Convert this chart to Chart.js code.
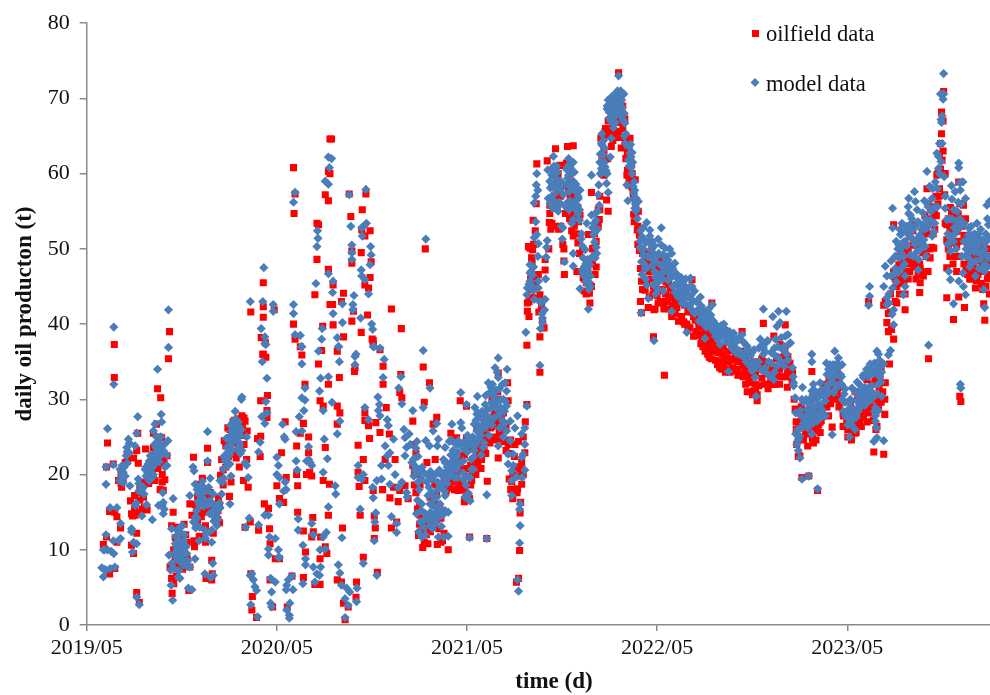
<!DOCTYPE html>
<html>
<head>
<meta charset="utf-8">
<title>daily oil production</title>
<script src="https://cdn.jsdelivr.net/npm/chart.js@4/dist/chart.umd.js"></script>
<style>
  html, body { margin: 0; padding: 0; background: #fff; overflow: hidden; }
  #wrap { position: relative; width: 990px; height: 695px; overflow: hidden; }
</style>
</head>
<body>
<!-- canvas is 5px wider than the page: the x scale keeps a margin on its right, the axis has to reach the edge -->
<div id="wrap"><canvas id="chart" width="995" height="695"></canvas></div>
<script>
// rows are [day since 2019/05, value, value, ...]
const oilfield2019 = [[32,10.7],[38,21,11.7],[40,24.2],[44,15.1,6.8],[51,21.4],[53,32.9,37.3],[54,15,7.5],[58,14.4,11],[61,19.2],[65,12.9],[66,18.8,20],[67,18.3],[70,19.4],[74,21.6],[78,21.8,22.8],[80,22.3],[84,16.5],[86,14.8,10.6],[88,14.5],[90,22.2,9.5],[92,15.4,17.2],[93,14.6],[96,23.2,12.2,4.3],[98,25.5],[99,21.5],[101,3],[102,16.6,18],[104,14.9,17.6],[106,15.4],[109,17],[111,15.6,19],[113,23.4],[116,15.3],[119,18.8,20],[123,19.4,21],[126,22.6,20.4],[128,23.6,25.5],[131,19.2],[132,21.4,23],[134,26.7],[136,31.4],[137,20.8,22],[140,23.6,25],[141,18],[142,30.2],[144,24.9],[145,20,19],[147,17.9],[148,22,21.6],[150,19.3],[154,22.5],[157,35.4],[159,39],[160,7.7],[163,13.2,6.2],[164,4.2],[166,15],[167,10,7.5,5.5],[170,11.6,9],[172,8,6.5],[173,7.7],[175,9.6,13],[178,12,8.6],[179,8.2],[181,9.2,10.4],[184,9,7.4],[187,13.4,8],[190,12,9],[193,8.8,11],[196,4.6],[198,16.1,7.7],[202,14.6],[205,22.3],[206,11.2],[207,10.4],[209,16,14],[211,15.2],[213,17,13.6],[214,18.7],[216,11.7],[217,17.2,11.8],[220,16.6,14.4],[222,19.5],[224,18,15],[227,15.2],[228,13.2,11],[229,6.2],[230,16.4,17.2],[232,23.5,21.6],[234,17.6],[235,16.8],[237,17.6,15.2],[240,8.6,6],[241,6.8],[243,12.2],[246,15.8],[249,14.6,16],[252,14,15.2],[253,16.8],[255,16,13.6],[257,19.9],[259,22],[262,20.6,18.6],[264,24.5],[267,23.8,21],[271,26.2],[272,24.8,22.4],[274,17.1],[275,23.8,26],[277,19],[279,25,24.4],[281,26,27],[282,22.7],[284,27.2,24.2],[287,25,22.2],[290,26.4,27.4],[293,21],[296,27,23.6],[298,27.8],[299,25.2,26.6],[301,19.2],[302,27.5,24],[304,27.1,13],[307,22],[308,25.8],[310,18.3],[314,13.7],[315,6.8,41.6],[317,2],[318,3.8],[326,1],[328,24.8],[330,12.6],[333,22.4],[334,25.1,29.8],[335,38.2],[338,36],[339,42.3,40.9,45.5,36],[341,16.1],[343,37.5],[344,35.6],[346,28.5,27.6],[347,30.5],[349,15.5],[351,12.8],[352,10.8,6],[357,2.4],[360,41.9],[362,8.8]];
const oilfield2020 = [[365,18.5],[370,8.8,16.8],[374,22.9],[378,16.3],[381,27],[383,19.6],[385,2.4],[394,6.5],[397,60.8,40],[398,54.7],[400,57.3,38],[403,23.8,20],[405,18.5,15],[410,25.5,37],[413,35.9],[416,12.5,26.8,6.3],[419,32],[420,9.7],[422,20],[426,25,22.9],[428,20.3],[432,19.8,11.7],[434,14.3],[435,12.4],[438,5.4,43.9],[442,48.6,53.4],[445,34.7,53.2],[448,5.4,8.8,29.8],[449,11.7],[451,36.5],[453,39.7],[454,19.2,29.1],[458,23.6,10.4,57.2],[461,9.5],[464,32,14.6,56.4,60.3,47.3],[466,18.7],[467,64.6,42.6,60],[470,64.6],[472,42.6],[473,45.2,39.9],[481,36.4,29.1,26.7,6],[485,32.9],[486,28.2],[489,43,5.7],[491,12.9],[493,44.1,38.3,2.9],[496,0.7],[502,2.4],[504,57.3],[507,54.3],[509,49.7,48.1,40.4],[512,41.7],[514,33.7],[515,34.2],[517,3.7],[518,5.7],[521,23.9,20.3],[523,18.4],[525,14.6],[527,49.5,38.9],[528,52.5],[529,55.2],[531,22,9],[534,51.7,45.2,28.2,27.2,19.2],[536,57.3],[539,41.2],[541,44.8,26.5],[543,24.8],[544,52.4,46.2],[546,48.3],[548,38],[550,37.4,37.8,17.9],[552,14.5,11.5],[554,12.9],[555,26.9],[558,7],[563,36.6,25.6],[568,18],[569,34.4,32],[573,22],[575,28.9],[581,25.4],[582,16.9],[585,42,12.9],[589,18.3],[592,22],[595,13.7],[598,16.4],[601,30.9,17.9],[603,33.3],[604,39.4],[605,30.2],[611,18.5],[617,16.8],[626,27.1,21.2],[627,24],[629,20.4,18.6],[632,22.8,17.6],[635,15.4,20,18],[637,11.9],[639,16,13.4],[640,18.6,14.6],[642,15,12.4],[645,10.3],[646,34.3],[648,29.6,14,11],[650,50],[652,13.6,12],[653,21.6],[655,13,10.8],[658,32.2],[659,17,13.9],[660,14.6,12.4],[664,13.7],[665,26.7],[668,16,18.6],[669,22],[672,27.6,17.4,14],[673,10.7],[676,12.8,15.8],[678,15.7],[680,18.5,14.2,11],[683,11.2],[686,19,12.2],[690,17.8,19.4],[694,10,18.2,20],[697,18.7],[698,21.4,19.6],[699,25.5],[702,19,20.6],[706,18,22],[710,24.9,22.4,20],[713,17.9],[714,21.4,18.8],[717,29.8],[718,22.4,19],[721,20.6,18],[725,16.4,22.6,18],[728,20.8,17],[729,24.9,29.1]];
const oilfield2021 = [[732,23.4,19.8],[735,11.7,16.8],[737,21.2,18.6],[739,19.2],[741,22,20.2],[744,21,23.4],[745,24.6],[747,22.2,20],[749,23.2,26.2],[751,21.6,24],[754,24.4,22.8],[755,24.1],[757,23,20.8],[758,22],[760,24,25.6],[763,23.2,27],[764,25.3],[766,22.8,25],[768,11.5],[769,19.1],[771,24.8,26.8],[774,24.2,27.6],[775,26.2],[778,26.4,30],[781,24.7],[783,28.2,25],[784,26.7],[786,24.6,30],[789,27.2,31],[790,33.5,22.2],[792,25.6,28.6],[796,27.4],[797,24.8,26.6],[800,28.2],[801,26,24.4],[805,26.4,23.2],[808,32.2],[809,29.8,24],[811,19.4,22.8],[814,24.6,18],[816,19],[818,20,16.8],[821,22.4,21],[822,24],[825,5.7],[826,21,17.6],[827,18.1],[829,6.2,24.4,19.8],[831,9.9],[832,20.7,14.9],[833,16.3],[835,18.7,21.6],[838,25,20],[841,22.9],[842,27],[845,29.3,37.2],[846,41.7,42.8],[848,50.3],[849,43,41],[851,50.1],[852,44.6,46],[854,48.8],[855,48.2,43.6],[856,49.9],[857,53.8],[858,50.6,46],[860,45.4],[861,52.4],[863,56],[864,61.3],[866,43.4],[867,46.6],[868,41.6],[870,33.6,43.9,38.3],[873,42.4],[875,40.4],[878,39.5],[880,47.2,48.6],[884,61.7],[887,50],[888,53.5],[889,54.7,55.8],[891,52.6,56],[893,58.5,53.4],[895,58.2,56],[896,55.4,60],[898,53,57],[900,63.3],[903,55.4,59.2],[905,60,57.5],[906,52.6,58],[909,61.1],[910,57,53],[914,50.6],[916,48.4,50],[917,46.6],[919,54.7],[921,58.4,61.4],[923,63.6],[925,56,58],[927,54,60],[928,57,59],[931,52.4],[933,54.6,57],[934,63.7,51.7],[936,53,56.4],[938,55.5],[940,52,54.6],[941,47],[943,50.8,55.4],[944,53.6],[946,49.4],[947,54.5],[952,47,50],[953,46.2],[955,44.4,46],[958,47.5],[959,44,45.5],[962,44.2,47.4],[963,51.9],[965,44.1],[966,45.2,42.8],[969,57.5,45],[971,50,48],[973,50.1],[975,49,52],[976,46.6],[978,51,47.6],[979,52.8],[982,55.2,53],[984,53.9],[985,57,55.2],[987,64.7],[989,62.4,60],[991,62.4],[993,59.8,63],[995,65.6],[996,62,66],[998,56.5],[1000,65,62],[1001,55,67],[1003,65.4,68.4],[1005,67.2],[1007,66,63.6],[1009,65.8],[1010,64.4,67.4],[1013,68,65],[1014,66.9],[1016,64.8,67],[1019,67.5,69.4,65.4],[1021,73.4,65.6],[1023,66.8,69],[1026,64.8,68.2,63.4],[1029,66,69],[1033,67.3,63.8],[1035,64.4,62],[1037,59.8],[1038,60.4,62.8],[1040,58.5],[1041,63,59],[1043,64.7],[1044,59.4,61.8],[1046,61.4,60],[1047,58.2,60],[1049,57.4],[1050,54.6,57],[1051,53.6],[1053,59.2],[1054,54.4,56],[1057,52.5],[1058,50.6,53],[1059,55],[1061,49.8,51.8],[1063,47.4,43],[1065,51.4,45.7,41.5],[1067,49.4,44.6],[1070,49.5,47.5],[1072,48.4,44.5],[1075,47.6,45.4],[1078,49.2,42.2],[1080,47,43.6],[1082,47.8],[1083,48.6,46],[1085,50.3],[1087,47.4,44],[1088,45,38.3],[1089,41.9],[1091,44.8,42],[1093,48],[1095,46.6,43.8],[1097,42.8,47.5],[1099,44.4,48.4]];
const oilfield2022 = [[1101,46,43],[1103,48.4,44.6],[1105,44.5],[1107,42.8],[1108,46.4,42],[1109,33.2],[1111,44],[1112,45.6,43],[1115,47,43],[1117,45.3,43.5],[1120,44.8,42],[1123,41],[1125,42.5,44],[1128,43.6],[1130,43.2,41.4],[1133,42.2],[1136,42.8,40.4],[1139,43.5],[1142,44,41],[1146,40.3],[1148,42.5,40],[1152,40],[1154,41.6,39.6],[1157,42.3],[1158,42.4,39.5],[1162,45.9,41.6],[1165,41,38.4],[1168,40.5],[1170,41.2,38.6],[1171,39],[1174,38.5,40.4],[1175,39.6],[1178,38.6],[1179,39.8,37.4],[1181,38.2],[1183,38.4,37],[1184,37.3,37.8],[1187,39.2,36.4],[1190,37.4,39],[1192,38,36],[1195,38.4,35.6],[1197,36.9],[1199,37.6,35.4],[1200,42.8,36.6],[1203,36.4,38.2],[1204,37.2],[1207,35.2,37],[1208,36.4],[1211,36.6,34.6],[1213,36.2,35],[1215,36.6,34.2],[1216,34.8],[1219,35,34],[1220,36],[1222,37,34.4],[1223,36,35],[1226,35,33.6],[1228,35.5],[1230,36.4,34],[1232,35,34],[1235,35.4,33.6],[1238,36.5],[1240,36.6,34.2],[1243,35.2],[1245,33.8,35.8],[1249,34],[1250,35,33.2],[1253,36],[1255,36.4,33.4],[1258,39,35],[1260,34.4,33],[1264,35,34],[1265,35.8,32],[1268,33.4,31],[1270,34.8,33],[1272,32.2,34.6],[1275,33.6],[1278,33,30.6],[1280,31.1,35],[1283,32],[1284,31,33.6],[1287,29.8,30.6],[1290,34,31.8],[1293,35],[1296,32.8,35.4],[1299,40.1,35],[1302,34.6,32],[1305,33.5],[1308,33.4,31.4],[1312,32],[1313,33.6,32.6],[1316,34.3],[1318,34.2,32],[1319,38.4],[1322,32],[1324,35.4,33],[1326,33.4],[1330,34,32],[1331,37.3],[1335,33,35.6],[1338,34.6],[1340,36.4,33],[1341,39.9],[1345,33.8,31.6],[1346,35.7],[1350,33,34.8],[1354,32.2],[1355,33.5],[1358,30],[1360,28.7],[1362,27,26],[1363,24],[1366,22.4,24.8],[1367,26.7],[1369,22.5],[1372,29,27.4],[1373,19.6],[1376,24.6,27.4],[1380,26.4,28.4,25.4],[1384,26,23.8],[1386,19.8],[1388,27,29],[1389,29.8],[1392,33.7,26],[1393,26.8,24.8],[1395,24.2],[1397,26,28.4],[1398,28.8],[1400,27.2,24.6],[1402,25.8],[1403,17.9],[1405,28.6,26.6],[1408,25.6,27],[1410,27.2],[1412,30.6,28],[1416,29],[1418,30.8,32],[1421,31.4,29],[1424,27.8,31],[1425,30.2,32.6],[1428,29.4,31.4],[1431,26.3],[1433,31.4,33.4],[1434,30.7],[1437,33,30],[1440,31.6],[1441,33.6,31],[1444,32.2,29],[1446,29.5],[1449,30.2,31.6],[1452,28,26.4],[1453,27.8]];
const oilfield2023 = [[1459,26.9],[1461,26,25],[1465,27.8,26],[1466,29.6,27.5],[1468,25,24.6],[1471,27.8],[1472,26.4,28.6],[1475,31,25.5],[1477,28,25.6],[1480,30,26.6],[1482,27],[1484,29,27],[1487,31,26.4],[1488,28.5],[1491,29.2,27.6],[1494,28.8,30.6],[1495,30],[1498,32.6,27],[1501,28.2,43],[1503,29,31.4],[1506,30.8],[1507,28.6,32],[1510,30,27.2],[1511,23],[1513,32.4,29],[1515,26],[1517,26.4,33.2],[1520,29.2],[1521,29.8,31.6],[1523,30.4,33],[1525,34,29.6],[1528,31],[1530,22.7,42.5],[1532,30,28],[1533,32.2,43],[1536,40.2],[1539,41.4,39],[1541,34.7],[1543,44,41.6],[1545,39.3],[1549,53.2,47,38],[1552,43,46],[1555,42.8,45],[1556,49,47],[1559,47.9],[1560,46.4,44],[1563,49,45.4],[1565,50],[1566,50.6,46],[1569,48.4,45.8],[1571,41.9,44],[1573,47,50.4],[1576,48],[1577,49.6,46],[1580,51.6,47],[1581,48.8],[1583,53,48.6],[1586,52.4,48],[1587,53.2,50.5],[1589,50.6,47.6],[1592,51,48.6,46],[1596,50,46.6],[1599,44.2,48],[1600,45.5,47.4],[1602,51,47],[1605,49.5],[1606,52,46.4],[1609,50,54.4],[1612,49,53],[1613,58,52],[1615,56,47],[1616,35.4],[1618,52,50],[1619,54,48.8],[1622,53.6,50.2],[1625,55.6,52],[1626,50.1],[1628,52.6,54.6],[1631,54.4,57],[1632,59.8],[1634,60,56],[1636,57],[1637,58,62.6],[1639,64,60.6],[1641,68.2,65.3],[1642,61.8],[1644,63,67],[1645,70.9],[1647,57.2],[1648,60,53.4],[1651,53.2,51.2,47.5,43.5],[1654,54,50],[1657,52.4,49],[1658,55.5],[1660,52,54.6],[1663,48,50.8],[1664,53,40.6],[1667,53.6,49],[1670,50.6,47],[1671,52.3],[1673,54.6,51],[1674,58.9,43.6],[1676,30.4,56,49],[1678,29.7],[1680,53,56],[1683,55.8],[1684,51.8,48],[1685,42.2],[1687,54],[1688,51,47.6],[1691,50,46.6],[1693,47.2],[1695,48.6,46],[1698,46,50],[1700,46.5,49],[1702,47.6,49],[1705,51.4,47],[1706,44.8],[1708,49,45.8],[1711,46.6,48.6],[1712,47],[1714,50,47],[1717,45.4,47.8],[1719,48.8],[1720,44.6,50],[1722,42.7],[1723,47.4,45],[1724,40.5],[1726,48,45],[1729,49,46],[1731,46.6,50],[1733,48,44]];

const model2019 = [[29,7.6],[32,6.4,10],[34,10,7.4],[37,7.3,12,18.7,21],[40,10,26.1],[45,7.5,15.6],[47,9.8],[51,11.2,21.3],[52,9.5,32,39.6],[54,7.7],[58,15.6],[61,11.2],[63,19.2],[64,20.7],[65,13.5,11.5],[67,20],[68,19.5,21.2],[70,20.3,18.9],[72,21],[74,19.8],[76,22.5],[77,23.6],[78,23,21.5],[80,24.7],[82,24.2,22.9],[83,18.5],[86,12.8,12.4],[88,9.7],[90,11],[93,23.8,15.9],[95,16.2],[96,10.8,25.5,3.7],[98,27.7],[99,19.4],[100,17.8,18.8],[101,2.7],[104,18.5],[106,18,14.5],[109,18.3],[110,17.4],[112,20.7],[114,19.8,21],[115,16],[117,20.2,19.6],[118,21.4],[120,21.8,20.6,19.2],[122,20,22.5],[125,22],[126,14],[127,19.7,21],[128,20,25.8],[130,22.8,24],[131,26.7],[133,23.6,22.2],[134,21.6,25],[136,34],[137,24.3,23],[138,15.9],[139,22.4,21.7],[141,23.6],[142,22.5,25],[143,28],[144,27],[145,23.2,16],[146,17.6],[147,23.2,16.3,14.8],[149,15.4,24],[150,21],[154,22.6,21.2],[156,24.5],[157,36.9,41.9],[158,9.3],[161,7.3],[162,5.3],[163,12.8,8.2],[165,3.3],[166,16.8],[168,9.5,7.5],[170,10.8],[171,9.2,11.8],[173,10],[174,8.8,12.6,10.4],[176,8.6,6.4],[177,9.6,11.4,7.2],[179,6.2,12.4],[180,9,10.5,13],[182,8.8],[183,9.2,11],[184,13.2],[185,8,10.2],[186,11.2],[188,12,8.4],[189,10.6],[191,10.4,7.9],[192,9.5],[194,8.5],[195,4.9],[198,7.7,17.2],[202,4.7],[204,21],[205,13.7],[206,20.5],[208,18.7,8.8],[209,14.4,12.9],[211,15.2,13.2],[212,18,14.2],[214,17.5,16.4],[216,11.2],[217,16,13],[218,18.3],[219,16.3],[221,17],[222,19.1],[223,16.6,18.4],[225,15.8,17.7],[227,12.6,16,6.8],[228,16.5,11.5],[230,12.1,16.3],[232,25.7,21.8],[233,16,17.8],[234,18.3],[236,14.8],[237,19.5,16.5],[238,6.3],[240,12.6,11],[242,8.2],[243,6.6,17.4],[244,15.3,13.8,16],[246,14.3],[248,14.6,15.6],[250,15,13.2],[252,15.8,14],[255,15.5,16.2],[256,15.6,19.2],[259,17.4],[261,19],[262,20.7],[263,19.5,22.4],[266,21.8],[268,22,24.8],[269,23.6],[271,23,21.2],[272,24.9],[274,25,22.6],[275,16.1,21.4],[276,24,26.5],[277,19.8],[278,25.8],[279,26.8,23.2],[281,25.2,27],[283,24.6,26.3],[285,28.4],[286,27.4,25.6],[287,26.2],[289,25.4,23.4],[291,27],[292,26.4,24.3],[294,24],[295,22.8,25.2],[297,26,30],[298,23.2,30.3],[304,21.6],[305,13],[307,21.2,25],[310,19.6],[312,14.2],[314,6.6,43],[315,2.7],[317,6.8],[320,6],[323,5.1],[326,4.6],[328,1.1],[330,23,13.3],[333,24.3],[335,39.4],[336,27.7],[337,35],[338,43],[340,47.5],[342,26.8,14.6,38.3,37.4],[344,29.7,37.3],[346,32.8,28.2],[349,14.6,10.1,9.3],[351,11.7],[353,6.2,2.9],[355,4.4,2.4],[358,41.7,42.6],[362,11.5,5.7]];
const model2020 = [[365,22.3,20],[368,21.2,10,9],[370,19.6,16.1,9],[376,26.7],[378,17.8],[379,25],[381,19,24.7],[383,18,4.7],[384,5.3,2],[387,6],[389,1.3,0.9],[390,2.9],[394,6.5],[396,4.7],[397,42.6,41.4,56.2],[400,38.6,57.5],[402,25.7,21.8],[404,20.6],[406,14.1,12.6],[408,27.7],[410,38.5],[412,37],[413,25.8,30.2,37,34.7],[415,10.6,5.5],[417,28.5],[419,29.9,31.5],[420,8.8,8],[422,21.8],[426,23.7,22],[429,21.6],[432,21.2,13.5],[435,12,7.7],[438,5.7],[440,45.4],[442,6.8,50.3],[443,52.4],[444,51.4],[445,36.4],[447,6.6,31.1],[448,10],[449,7.7,32.8],[451,38],[452,39.4],[454,28.5,20.3,11.7],[456,24.7],[458,10.1,59],[460,12.3],[462,22.1],[464,33,15.7,62.2,58.6,46.7],[466,60.8],[470,62],[471,29.6],[472,44.2],[473,45.7,41.4],[477,18.5],[478,17.4],[481,38.2,25.4],[483,37,8],[484,37],[485,35],[486,27.1,6.9],[489,5.3],[490,11.6],[491,42.7,40.2],[496,3.5,1],[499,4.9],[502,2.6],[504,57.2],[505,4.4],[507,53],[509,50.5,49.5,48.6],[511,42.6,41.9],[513,43.8],[515,35.7,34.6],[517,36],[518,3.1],[519,4.9],[521,21.2,19.6],[525,15.4],[526,40.8],[527,47.2],[528,46.4,19.4,52.8],[529,51.7],[531,53,20,8.2],[534,45.9,28.9],[536,57.9],[537,53.4],[541,44,27.3],[544,47.9],[545,50.3],[546,49.2],[547,40],[549,39.3,18.3],[550,37,16.9],[552,37,11.2],[553,13.7],[555,14.9],[557,6.6,19.2],[559,30.3],[560,28.5],[562,29.3],[563,27.8,36.8],[566,21.2,19.4],[569,32.9],[571,35.3],[573,23.8],[577,27.3,22.5],[579,26.5,21.2],[582,22.9,18.7],[585,14.4],[589,24.7],[592,20],[595,13.5,12.3],[598,18.3],[599,31.5],[603,33],[605,29.4,19],[609,26],[611,24.9,22.5],[614,23.6,17.6],[615,17],[619,25.4],[621,24],[624,21.6],[626,28.5],[627,22],[628,19.8],[630,20.6,22.2],[632,23.5,21],[633,14.8],[634,24.4],[635,16.6],[636,22.4,19],[637,20.3,12.4],[638,18],[640,13.7],[642,15.2,19.4],[643,16.1,11.7],[644,21],[646,36.5,28.9,13.9],[648,20.2,13],[650,14.8,12],[651,51.3,24.5],[653,19],[655,17.2,14],[656,19.8],[657,18.3],[658,23.8],[659,31.5,16.1],[660,15,13.2,20.4],[662,17.6,14.6],[663,19.4,16],[664,12.8],[665,25.8,20,14.1],[668,14.8,16.8],[669,20],[670,13.6,15.6],[672,26.8,17],[673,23.8],[674,19,18],[675,24.7,20.3,14.8,11.7],[677,14.4,20.6],[678,16.1],[680,15.4,18.4],[681,13.1],[683,19.8,14.6],[685,22,11.7],[687,19,17.8],[688,23.6,21.6,17.2,15.2],[690,21.6,20.4],[692,18.8,21],[694,19.6,15,11.8],[696,24.4,20.2],[697,21.4],[699,22.6,24.6],[701,26.7,24.5,20],[703,23.2,20.8],[704,22],[706,21.2,19.6],[707,22.9],[709,24,22.2],[710,22.5,20.7],[712,23,19.6],[713,24.5],[715,24,21.4],[718,26.9,30.9],[720,26.2],[722,24.2,20.2],[723,21.8],[724,23.4,19.3],[726,20,17],[728,23.6,18.6],[729,24.5,29.3]];
const model2021 = [[731,25.2,23],[733,24,17.5],[735,11.6],[736,24,19.6,16.5],[738,22,24.5],[739,20.7],[741,25],[742,23.8,22.3,20.7],[744,26.7,23.2],[745,28.9],[747,27.2,24],[749,28,25.8],[750,30.4],[751,26.6,28.2],[752,24.7],[754,27.8,25.4],[757,25.2,22.6],[759,28.4,26],[761,27.3,23.6],[763,26.7,24.2,28],[765,29.3],[766,26.3,30.5],[768,17.3,11.5],[769,27,28.6],[771,32.2],[772,30.8,25.2],[774,27.6],[776,28.8,31.6],[777,30.7],[778,26.6,29.6],[779,32],[781,29.3],[782,30.4,27.5],[784,34.2],[786,31.2,28.8],[788,29.6,33.6],[790,35.5,32.9,23.8],[792,31.4,28],[793,26.2],[795,30,28.9],[798,27.2,32],[800,30,25],[802,28.4,26.8],[803,32.2],[804,29.7],[806,31.1,29.1,25.8],[807,34],[809,22.7,21.4],[813,27.1,24.5],[816,20.5,19.2,17.2],[819,22.7,21.2],[822,26.2],[825,19.7],[827,27.8,6],[829,4.5],[831,15.4,10.9],[832,16.1,13.2],[835,25.4,22.3],[836,19.6],[838,22.7],[841,26.2,24,20.6],[843,38.9],[845,29.1,43.9],[846,44.8],[849,45.3],[851,47.9,45.7,46.8],[853,47,44.7],[854,46.6],[856,46.5,45],[858,44.5,47.6],[859,56.1,51.5,43.3],[862,57,53.6],[863,58.5],[864,60,51.9],[866,57.8,49],[867,50.7,45.7,44.8],[870,34.5,43],[871,39.4],[872,42.8],[874,41.4],[875,40.8,40.2],[879,41.9],[880,43.3],[881,46],[882,48.9],[883,50.2],[884,51.1],[885,60.5],[886,56.7],[889,59],[890,56,58.1],[892,60.6,55.7],[893,59.8,57],[894,58.4,55.4],[896,62.3],[897,61,56.4,58.4],[899,60.5],[901,59.4,55.4],[902,57.6,61],[904,58.2,60.2],[905,55],[907,56.2,58.8],[909,56],[910,59],[911,53,58],[913,51.3],[914,52.8],[915,57.2],[917,48.3],[919,55.6],[921,60.6,58.6],[923,56.2,59.4],[925,62,61.1,59.8],[926,57.6,55.2],[928,60.8,56.4],[929,58.3],[931,53.4],[932,58,55.6],[934,61.5,59,53.9,49.4,47.7],[936,56.2,60.2],[938,58.2],[939,55.2,58.6],[941,57.5],[942,55.8],[943,54.6,57],[944,56.7],[946,55.2,53.8],[947,57.8,44.7],[949,51.3],[950,52],[951,47.2,50.4],[953,48.8,46.8],[955,46.4,47.6],[957,49.9],[958,48,45.6],[960,53.4,47.4],[961,45.3],[962,48.6,47],[963,46.4,42],[964,45.6,44.6],[966,47.9],[967,46.4,45],[969,59.8,54.5],[971,52.8,49],[973,51.9],[974,53.4],[975,50.9],[976,54.7,52.3,48.8],[978,53.8,50.2],[979,49.4],[981,55,52.6],[982,57.2],[983,58.5],[984,55.8],[985,61.5],[986,62.6,60],[988,64,60.7],[989,63.8,65.3],[991,62.5],[992,64.4,60.2],[994,63.4,61.5],[995,60.9],[997,60.4],[998,58.7],[999,69,68.6,60],[1001,57.5,69.8],[1003,68.2,67.4],[1005,62.2,68.5],[1006,69.3,67],[1007,64.7,68],[1009,68.4,70.3],[1011,66.1,68.7,69.5],[1012,70,67.5],[1014,69.2,68],[1015,70.6,66.8],[1017,68.7,70],[1019,69,71],[1021,73,69.6],[1022,70.4,68],[1024,69.1,70.2],[1025,71,67.6],[1027,69.8],[1028,70.4,68.8],[1030,67.1],[1031,70.6],[1032,68,65],[1033,66.7],[1034,64],[1035,65.3],[1037,58.5],[1039,56.4],[1040,61.8],[1041,63.6,61],[1043,62.7],[1044,63.9],[1045,62.2,60.8],[1047,60,62.8],[1048,61.5],[1049,58.3],[1050,57.4,56.6],[1051,58.9],[1052,55.4,57.8],[1053,56],[1054,55],[1055,56.7],[1056,55.3],[1057,54],[1059,56.3],[1062,51],[1063,52.4,50.2],[1064,41.5],[1065,49.9,48.3],[1066,51.6,46.6],[1068,52.8,50],[1069,49.2],[1070,48,51.2],[1072,47.4],[1073,50.8,46],[1075,53.5,45.2],[1076,49,47.5],[1078,43.4],[1079,51,49],[1081,52.5,51.7],[1083,50,48.8],[1085,51],[1086,49,47.8],[1088,49.4,45.2],[1089,37.8],[1090,47,50.4],[1091,48.3],[1092,46.2,44],[1094,46.1],[1095,49,46.6],[1097,51.3,44.6],[1098,45.6,49.4]];
const model2022 = [[1101,47.9,46.5],[1103,50.5,52.8],[1104,46.8],[1106,49.2,46],[1107,44.4,48],[1110,50.1,47.2],[1111,48.8],[1113,49],[1114,47],[1116,45.8,48.5],[1117,47.5],[1119,50,47.8],[1120,46.6],[1122,46.2],[1123,49.4,41.7],[1125,47.4,45],[1128,45.2],[1129,48.1,44.2],[1132,46.7],[1133,45.3],[1135,43.6,46],[1137,45.4],[1138,44.6],[1141,44,46.2],[1143,42.8,44.2],[1144,43.2,45.6],[1146,44.8],[1148,45.1,42.6],[1150,46,43.4],[1152,38.9,44],[1154,44.7],[1155,43.6],[1157,42.5,44.9],[1159,46.1],[1160,43.8,42],[1162,45],[1164,43.1],[1167,44.4,41.4],[1170,43],[1172,41.8,43],[1175,42,40.4],[1178,43.6],[1180,41.2,42.4],[1181,40.4,41.8],[1184,40,41.4],[1187,41.7,38.1],[1189,41,39.6],[1192,40.6],[1194,42,40.2],[1197,40.8],[1198,39.4,41.2],[1201,42.6],[1203,40.4,39],[1205,39.5],[1207,40,38.4],[1210,38.6],[1212,39.4,38],[1216,37.3,39.2],[1218,39.8,38.4],[1220,38.8],[1223,40],[1225,38.6,39.4],[1227,37.8],[1229,38.6],[1232,33.7],[1234,39,37.4],[1236,37.8],[1238,38.4,36.8],[1241,37.2],[1242,38.8,37],[1246,37.6,36.2],[1248,36.7,38],[1251,36,38],[1254,38,36.4],[1258,38.6],[1261,37.6,35.6],[1264,36.2],[1266,37.2,35],[1268,37],[1271,36.4,34.6],[1274,35.8],[1277,36.2,33.8],[1280,35],[1281,34,36.6],[1283,32.9],[1285,30.4],[1287,34.4],[1290,36.8,35],[1293,38],[1296,37.2,33.8],[1299,42,36.9,36],[1302,36.4,34.2],[1305,37.6],[1307,37.8,33.4],[1309,35],[1312,33],[1314,36.2,34.8],[1317,41],[1319,32.6],[1320,36.8,33.6],[1322,38,35.8],[1325,39.7,34.4],[1327,37,35.6],[1328,41.7],[1331,40.2],[1333,38.2,35],[1336,36.6],[1339,37,34.4],[1341,38.4],[1343,41.7],[1344,36],[1346,38.6,35.2],[1347,37.3],[1351,37.5],[1355,34.2],[1356,33],[1357,32.2,31.8],[1360,30.2],[1361,25.4,28.2],[1363,24],[1365,26],[1366,24.6,23.2],[1369,25.1,22.2],[1370,28.5],[1371,27.8,26.2],[1373,30,19.4],[1374,31.6],[1376,29.6,26.8],[1379,27.1],[1381,27.6,30],[1383,28.7],[1384,26.2,28],[1386,26.7,19.8],[1388,27.4,29.4],[1391,28.2,30.2],[1392,36,35,31.1,25.4],[1394,26.8,30.6],[1395,32,29.1],[1397,28.4,31.2],[1400,30,27.8],[1402,27.1],[1403,18.1],[1404,29.2],[1405,30.9],[1407,30.4,28],[1408,32.2,29.3],[1410,31.2,27.6],[1412,28.6],[1415,30.4],[1418,29.8,27.8],[1420,31.6,34.8],[1421,33.3],[1423,32,30.8],[1424,34],[1426,33,31],[1427,34.6],[1429,32.2,33.6],[1431,32.9,25.3],[1433,33.8,34.6],[1434,32.2,30.9],[1436,36.4],[1438,34,31.4],[1441,33.2,34.8],[1443,35.5],[1445,34.4,32],[1447,33.3],[1449,32,33],[1450,34.6,30],[1452,28.4,29.8],[1454,30.7],[1456,27.8,29.6,31.4]];
const model2023 = [[1461,27.6,26.6],[1463,28.7],[1464,29.6,25],[1466,30,27.1],[1468,28.2,26.6],[1469,31.5],[1472,28.8,27.4],[1475,26],[1477,30.8,27.6],[1479,32.3,29.8],[1481,31,28.4],[1483,29.4,32],[1485,30.7,28.9],[1488,29.8,31.4],[1490,30.4,33.2],[1491,32.9,31],[1494,31.6,29.2],[1497,30.2,34],[1498,33.5],[1500,33,30.8],[1501,42.5],[1502,31.6,29.8],[1503,45,43.7],[1504,34.7],[1506,34,31],[1507,31.8],[1509,30.2,33.4],[1511,24.4],[1512,28.4,34.8],[1514,28.9,27.8,27.1],[1516,33.6,26.2],[1517,36.4,30.7,24.9],[1519,32,34.2],[1520,36,28.5],[1522,35.2,33],[1523,34.4],[1525,32.3],[1526,33.6,30.4],[1530,34.7,24.5,45],[1533,47.7],[1536,46.4,43.5,42.6],[1539,35.9],[1540,44,42.8],[1543,36.5],[1544,48.4,46.4],[1546,41.3],[1547,44.8,52.8,55.4],[1549,46.6,41.9,39.9],[1552,49,47.4],[1554,45.6,51],[1557,50,46.8],[1559,50.5,48.8],[1561,52.6,49.8],[1562,51.9],[1564,50.2,52],[1565,53.4,47.5],[1567,49,50.8],[1568,52.3,43.9],[1570,51,48],[1571,46.4,45],[1574,53,50.4],[1577,52.8,55.6],[1578,54.7,56.7,51.9],[1580,53.2,51.6],[1581,54.5,49.2],[1584,52.4,54],[1587,49,51.2],[1589,57.6],[1590,50.6,53],[1591,56.3],[1593,51.2,49.6],[1594,55.2],[1596,53.6,47.2],[1597,48.6],[1599,51.8],[1600,49.9],[1602,50.8,52.6],[1605,53.2,54.8],[1607,51.2],[1608,52.6,56.4],[1610,50.3],[1611,54,49],[1613,60.3,56.1,52.8],[1615,55.6,53],[1616,37.2],[1618,58.3],[1620,55,53.8],[1623,56.7,51.7],[1624,55.2,58],[1626,52.3],[1628,55.6,53.4],[1629,58.9],[1632,62.7],[1633,58,55.6],[1635,62.3,60.7],[1637,64,60],[1639,70.6],[1640,67.2,61.6],[1641,66.8],[1642,64,67.7],[1644,69.9],[1645,73.3,70.6],[1646,59.6],[1648,57,55.4],[1651,53.9],[1653,52,50.6],[1655,47],[1656,54,51.6],[1658,49.7,45.9],[1660,58.4],[1661,56.6,54],[1664,51,42.7],[1665,52.8,55.2],[1667,57.6,52],[1669,53.6,50],[1671,55],[1673,56.2,52.6],[1674,61.4,60.8,45.7],[1676,58.8,54],[1677,57.8,32],[1678,31.5],[1679,56,53],[1680,49],[1682,58.9,46.8],[1683,45],[1684,53.4,51],[1687,56.7,43.9],[1688,50,49],[1690,51],[1692,49.4,51.8],[1693,52.8,48.8],[1695,50,47.6],[1696,51.9],[1698,53,50.4],[1701,51.4,48.2],[1703,50.1],[1704,52,49.6],[1706,46.4],[1707,50.8,48.4],[1709,53.4],[1710,51.6,49.6],[1712,52],[1713,50.6,47.4],[1715,49.4],[1716,52.6,48.6],[1719,47.5],[1720,51.2,49.2],[1722,44.6],[1723,47,50],[1724,42.2],[1725,50.8,47.9],[1726,52,49.2],[1728,55.8],[1729,54,47.6],[1731,53.2],[1732,51.4,48.8],[1733,56.3]];

const yTicks = [0, 10, 20, 30, 40, 50, 60, 70, 80];
const xTickDays = [0, 365, 730, 1095, 1460];
const xTickLabels = ['2019/05', '2020/05', '2021/05', '2022/05', '2023/05'];

function toPoints(rows) {
    return rows.flatMap(([day, ...values]) => values.map(v => ({ x: day, y: v })));
}

const axisColor = '#8a8a8a';
const textColor = '#111';
const serif = '"Liberation Serif", "Times New Roman", serif';

// axis titles and the legend sit at fixed spots in the original, so draw them here
const annotations = {
    id: 'annotations',
    afterDraw(chart) {
        const ctx = chart.ctx;
        ctx.save();
        ctx.fillStyle = textColor;
        ctx.textBaseline = 'alphabetic';

        ctx.font = 'bold 23px ' + serif;
        ctx.textAlign = 'center';
        ctx.fillText('time (d)', 554, 688);
        ctx.save();
        ctx.translate(31, 314);
        ctx.rotate(-Math.PI / 2);
        ctx.fillText('daily oil producton (t)', 0, 0);
        ctx.restore();

        ctx.font = '22.6px ' + serif;
        ctx.textAlign = 'left';
        ctx.fillStyle = '#ff0000';
        ctx.fillRect(752, 30, 7, 7);
        ctx.fillStyle = '#4a7ebb';
        ctx.beginPath();
        ctx.moveTo(755, 78);
        ctx.lineTo(759.5, 82.5);
        ctx.lineTo(755, 87);
        ctx.lineTo(750.5, 82.5);
        ctx.closePath();
        ctx.fill();
        ctx.fillStyle = textColor;
        ctx.fillText('oilfield data', 766, 41);
        ctx.fillText('model data', 766, 91);
        ctx.restore();
    }
};

new Chart(document.getElementById('chart').getContext('2d'), {
    type: 'scatter',
    data: {
        datasets: [{
            label: 'oilfield data',
            data: toPoints([...oilfield2019, ...oilfield2020, ...oilfield2021, ...oilfield2022, ...oilfield2023]),
            pointStyle: 'rect',
            pointRadius: 5,
            backgroundColor: '#ff0000',
            borderWidth: 0,
            order: 2
        }, {
            label: 'model data',
            data: toPoints([...model2019, ...model2020, ...model2021, ...model2022, ...model2023]),
            pointStyle: 'rectRot',
            pointRadius: 4.6,
            backgroundColor: '#4a7ebb',
            borderWidth: 0,
            order: 1
        }]
    },
    options: {
        responsive: false,
        animation: false,
        layout: { padding: { top: 21, right: 0, left: 0, bottom: 0 } },
        plugins: { legend: { display: false }, tooltip: { enabled: false } },
        scales: {
            x: {
                type: 'linear',
                min: 0,
                max: 1734,
                afterBuildTicks: axis => { axis.ticks = xTickDays.map(v => ({ value: v })); },
                afterFit: axis => { axis.height = 70; },
                grid: { drawOnChartArea: false, color: axisColor, tickLength: 6, lineWidth: 1.5 },
                border: { color: axisColor, width: 1.5 },
                ticks: {
                    color: textColor,
                    font: { family: serif, size: 22 },
                    padding: 4,
                    maxRotation: 0,
                    autoSkip: false,
                    callback: value => xTickLabels[xTickDays.indexOf(value)]
                }
            },
            y: {
                min: 0,
                max: 80,
                afterBuildTicks: axis => { axis.ticks = yTicks.map(v => ({ value: v })); },
                afterFit: axis => { axis.width = 86.7; },
                grid: { drawOnChartArea: false, color: axisColor, tickLength: 7, lineWidth: 1.5 },
                border: { color: axisColor, width: 1.5 },
                ticks: {
                    color: textColor,
                    font: { family: serif, size: 22 },
                    padding: 10
                }
            }
        }
    },
    plugins: [annotations]
});
</script>
</body>
</html>
